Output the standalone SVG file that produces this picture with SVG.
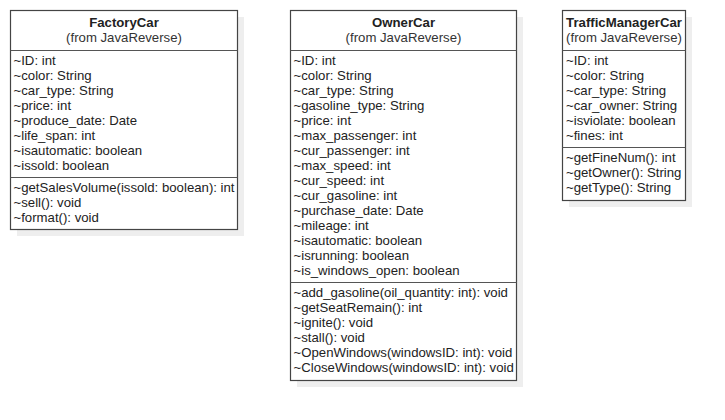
<svg xmlns="http://www.w3.org/2000/svg" width="725" height="420" viewBox="0 0 725 420">
<style>
.shadow{fill:#eeeeee;stroke:none}
.box{fill:#ffffff;stroke:#444444;stroke-width:1.2}
.div{stroke:#555555;stroke-width:1.2}
text{font-family:"Liberation Sans",Arial,sans-serif;font-size:13.2px;fill:#222222}
.title{font-weight:bold;text-anchor:middle}
.sub{text-anchor:middle;fill:#333333}
</style>
<rect width="725" height="420" fill="#ffffff"/>
<g id="FactoryCar">
<rect class="shadow" x="17" y="17" width="227" height="219"/>
<rect class="box" x="10.5" y="10.5" width="227" height="219"/>
<line class="div" x1="10.5" y1="50.5" x2="237.5" y2="50.5"/>
<line class="div" x1="10.5" y1="177.5" x2="237.5" y2="177.5"/>
<text class="title" x="124" y="27">FactoryCar</text>
<text class="sub" x="124" y="42">(from JavaReverse)</text>
<text x="13.5" y="65">~ID: int</text>
<text x="13.5" y="80">~color: String</text>
<text x="13.5" y="95">~car_type: String</text>
<text x="13.5" y="110">~price: int</text>
<text x="13.5" y="125">~produce_date: Date</text>
<text x="13.5" y="140">~life_span: int</text>
<text x="13.5" y="155">~isautomatic: boolean</text>
<text x="13.5" y="170">~issold: boolean</text>
<text x="13.5" y="192">~getSalesVolume(issold: boolean): int</text>
<text x="13.5" y="207">~sell(): void</text>
<text x="13.5" y="222">~format(): void</text>
</g>
<g id="OwnerCar">
<rect class="shadow" x="297" y="17" width="226" height="370"/>
<rect class="box" x="290.5" y="10.5" width="226" height="370"/>
<line class="div" x1="290.5" y1="50.5" x2="516.5" y2="50.5"/>
<line class="div" x1="290.5" y1="282.5" x2="516.5" y2="282.5"/>
<text class="title" x="403.5" y="27">OwnerCar</text>
<text class="sub" x="403.5" y="42">(from JavaReverse)</text>
<text x="293.5" y="65">~ID: int</text>
<text x="293.5" y="80">~color: String</text>
<text x="293.5" y="95">~car_type: String</text>
<text x="293.5" y="110">~gasoline_type: String</text>
<text x="293.5" y="125">~price: int</text>
<text x="293.5" y="140">~max_passenger: int</text>
<text x="293.5" y="155">~cur_passenger: int</text>
<text x="293.5" y="170">~max_speed: int</text>
<text x="293.5" y="185">~cur_speed: int</text>
<text x="293.5" y="200">~cur_gasoline: int</text>
<text x="293.5" y="215">~purchase_date: Date</text>
<text x="293.5" y="230">~mileage: int</text>
<text x="293.5" y="245">~isautomatic: boolean</text>
<text x="293.5" y="260">~isrunning: boolean</text>
<text x="293.5" y="275">~is_windows_open: boolean</text>
<text x="293.5" y="297">~add_gasoline(oil_quantity: int): void</text>
<text x="293.5" y="312">~getSeatRemain(): int</text>
<text x="293.5" y="327">~ignite(): void</text>
<text x="293.5" y="342">~stall(): void</text>
<text x="293.5" y="357">~OpenWindows(windowsID: int): void</text>
<text x="293.5" y="372">~CloseWindows(windowsID: int): void</text>
</g>
<g id="TrafficManagerCar">
<rect class="shadow" x="569" y="17" width="123" height="190"/>
<rect class="box" x="562.5" y="10.5" width="123" height="190"/>
<line class="div" x1="562.5" y1="50.5" x2="685.5" y2="50.5"/>
<line class="div" x1="562.5" y1="147.5" x2="685.5" y2="147.5"/>
<text class="title" x="624" y="27">TrafficManagerCar</text>
<text class="sub" x="624" y="42">(from JavaReverse)</text>
<text x="566" y="65">~ID: int</text>
<text x="566" y="80">~color: String</text>
<text x="566" y="95">~car_type: String</text>
<text x="566" y="110">~car_owner: String</text>
<text x="566" y="125">~isviolate: boolean</text>
<text x="566" y="140">~fines: int</text>
<text x="566" y="162">~getFineNum(): int</text>
<text x="566" y="177">~getOwner(): String</text>
<text x="566" y="192">~getType(): String</text>
</g>
<g id="connectors"></g>
</svg>
